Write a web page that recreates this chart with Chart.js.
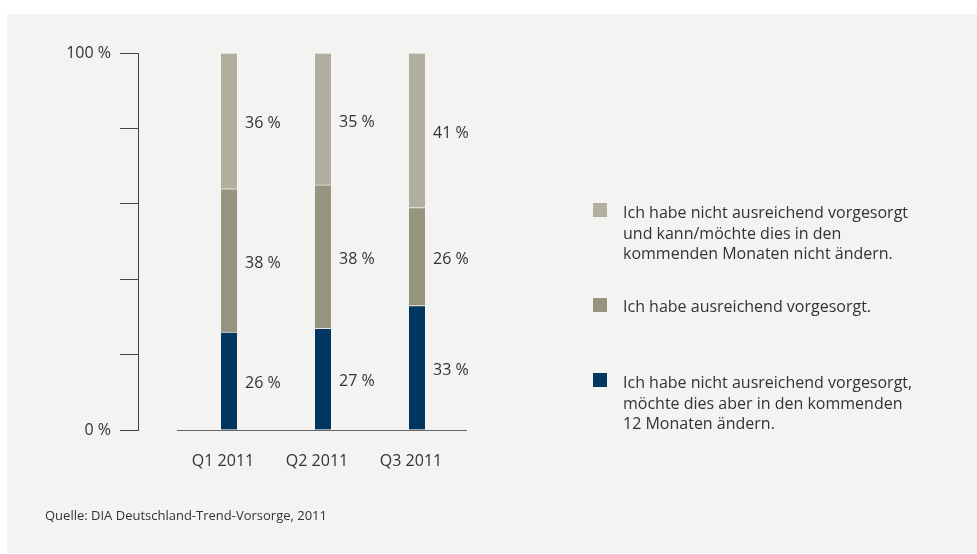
<!DOCTYPE html>
<html><head><meta charset="utf-8">
<script src="https://cdn.jsdelivr.net/npm/chart.js@4"></script>
<style>
html,body{margin:0;padding:0;background:#fff;}
#wrap{position:relative;width:977px;height:554px;overflow:hidden;background:#fff;}
#panel{position:absolute;left:7px;top:14px;width:970px;height:539px;background:#f3f3f1;}
canvas{position:absolute;left:0;top:0;}
.sq{position:absolute;left:593px;width:14px;height:14px;}
.lt{position:absolute;left:623px;font:16px "Open Sans",sans-serif;line-height:20.5px;color:#333;white-space:nowrap;}
#src{position:absolute;left:45px;top:507px;font:13px "Open Sans",sans-serif;line-height:16px;color:#333;}
</style></head>
<body>
<div id="wrap">
<div id="panel"></div>
<canvas id="c" width="977" height="554"></canvas>
<div class="sq" style="top:203px;background:#b2afa0"></div>
<div class="lt" style="top:202px">Ich habe nicht ausreichend vorgesorgt<br>und kann/möchte dies in den<br>kommenden Monaten nicht ändern.</div>
<div class="sq" style="top:298px;background:#96937f"></div>
<div class="lt" style="top:296px">Ich habe ausreichend vorgesorgt.</div>
<div class="sq" style="top:373px;background:#00365f"></div>
<div class="lt" style="top:372px">Ich habe nicht ausreichend vorgesorgt,<br>möchte dies aber in den kommenden<br>12 Monaten ändern.</div>
<div id="src">Quelle: DIA Deutschland-Trend-Vorsorge, 2011</div>
</div>
<script>
const categories = ['Q1 2011', 'Q2 2011', 'Q3 2011'];
const seriesWillChange = [26, 27, 33];
const seriesSufficient = [38, 38, 26];
const seriesWontChange = [36, 35, 41];
const yTickLabels = {0: '0 %', 100: '100 %'};

const FONT = '"Open Sans", sans-serif';
const TXT = '#333333';

const valueLabels = {
  id: 'valueLabels',
  afterDatasetsDraw(chart) {
    const ctx = chart.ctx;
    ctx.save();
    ctx.font = '16px ' + FONT;
    ctx.fillStyle = TXT;
    ctx.textBaseline = 'middle';
    ctx.textAlign = 'left';
    chart.data.datasets.forEach((ds, i) => {
      const meta = chart.getDatasetMeta(i);
      meta.data.forEach((bar, j) => {
        ctx.fillText(ds.data[j] + ' %', bar.x + bar.width / 2 + 8, (bar.y + bar.base) / 2 + 3);
      });
    });
    ctx.restore();
  }
};
const xAxisLine = {
  id: 'xAxisLine',
  afterDraw(chart) {
    const {ctx, chartArea} = chart;
    ctx.save();
    ctx.strokeStyle = '#666';
    ctx.lineWidth = 1;
    ctx.beginPath();
    ctx.moveTo(chartArea.left - 5, Math.round(chartArea.bottom) + 0.5);
    ctx.lineTo(chartArea.right + 3, Math.round(chartArea.bottom) + 0.5);
    ctx.stroke();
    ctx.restore();
  }
};

new Chart(document.getElementById('c'), {
  type: 'bar',
  data: {
    labels: categories,
    datasets: [
      {data: seriesWillChange, backgroundColor: '#00365f'},
      {data: seriesSufficient, backgroundColor: '#96937f'},
      {data: seriesWontChange, backgroundColor: '#b2afa0'}
    ].map(d => Object.assign(d, {barThickness: 16, borderWidth: {top: 1, bottom: 0, left: 0, right: 0}, borderColor: '#e9e7e0', borderSkipped: false}))
  },
  options: {
    responsive: false,
    animation: false,
    layout: {padding: {left: 0, right: 513, top: 53, bottom: 0}},
    plugins: {legend: {display: false}, tooltip: {enabled: false}},
    scales: {
      x: {
        stacked: true,
        grid: {display: false, drawTicks: false},
        border: {display: false},
        ticks: {font: {family: FONT, size: 16}, color: TXT, padding: 22, labelOffset: -6},
        afterFit(s) { s.height = 124; }
      },
      y: {
        stacked: true, min: 0, max: 100, position: 'left', weight: 1,
        ticks: {stepSize: 20, padding: 9, font: {family: FONT, size: 16}, color: TXT,
          callback: v => (yTickLabels[v] !== undefined ? yTickLabels[v] : '')},
        grid: {drawOnChartArea: false, tickLength: 18, color: '#444', lineWidth: 1},
        border: {display: true, color: '#444', width: 1},
        afterFit(s) { s.width = 138; }
      },
      sp: {
        type: 'linear', position: 'left', weight: 0, display: true,
        ticks: {display: false}, grid: {display: false}, border: {display: false},
        afterFit(s) { s.width = 44; }
      }
    }
  },
  plugins: [valueLabels, xAxisLine]
});
</script>
</body></html>
